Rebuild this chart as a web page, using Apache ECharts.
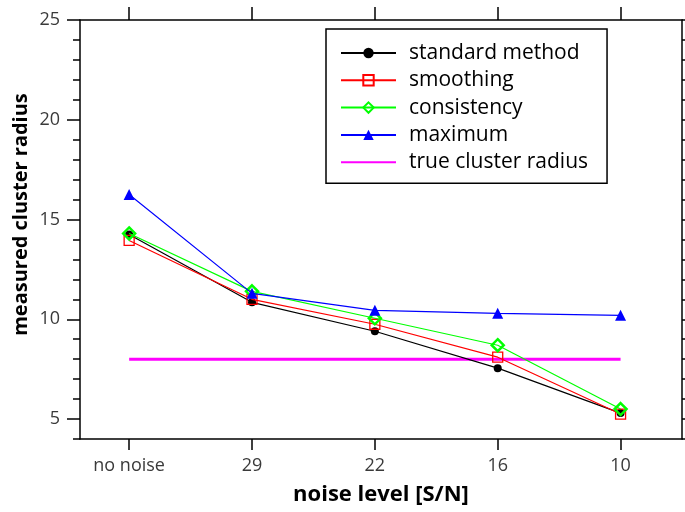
<!DOCTYPE html>
<html>
<head>
<meta charset="utf-8">
<script src="https://cdn.jsdelivr.net/npm/echarts@6/dist/echarts.min.js"></script>
<style>
  html, body { margin: 0; padding: 0; background: #fff; }
  #chart { width: 685px; height: 512px; }
</style>
</head>
<body>
<div id="chart"></div>
<script>
// Noise levels along the x axis (S/N), in plotting order
const categories = ['no noise', '29', '22', '16', '10'];

// Measured cluster radius for each method
const standardMethod = [14.25, 10.85, 9.4, 7.55, 5.3];
const smoothing      = [13.95, 11.0, 9.75, 8.1, 5.25];
const consistency    = [14.3, 11.4, 10.05, 8.7, 5.5];
const maximum        = [16.25, 11.3, 10.45, 10.3, 10.2];

// Reference value of the true cluster radius
const trueRadius = 8;

// Labelled y ticks
const yTicks = [5, 10, 15, 20, 25];
const xTicks = categories.map((c, i) => i);

const Y_MIN = 4, Y_MAX = 25;
const X_MIN = -0.4, X_MAX = 4.5;

const FONT = 'Open Sans';
const axisColor = '#000';
const labelColor = '#3a3a3a';

const toPoints = arr => arr.map((v, i) => [i, v]);

const chart = echarts.init(document.getElementById('chart'), null, { renderer: 'canvas' });

const baseX = {
  type: 'value', min: X_MIN, max: X_MAX,
  splitLine: { show: false },
  axisLine: { show: true, onZero: false, lineStyle: { color: axisColor, width: 1.5 } }
};

const baseY = {
  type: 'value', min: Y_MIN, max: Y_MAX,
  splitLine: { show: false },
  axisLine: { show: true, onZero: false, lineStyle: { color: axisColor, width: 1.5 } }
};

chart.setOption({
  animation: false,
  backgroundColor: '#fff',
  grid: { left: 80, top: 20, right: 3, bottom: 73, containLabel: false },
  xAxis: [
    Object.assign({}, baseX, {
      position: 'bottom',
      name: 'noise level [S/N]',
      nameLocation: 'middle',
      nameGap: 45,
      nameMoveOverlap: false,
      nameTextStyle: { fontFamily: FONT, fontWeight: 'bold', fontSize: 22, color: '#000' },
      axisTick: { show: true, length: 11, inside: false, customValues: xTicks, lineStyle: { color: axisColor, width: 1.5 } },
      axisLabel: { show: true, margin: 18, customValues: xTicks, fontFamily: FONT, fontSize: 18, color: labelColor,
        formatter: v => categories[Math.round(v)] }
    }),
    Object.assign({}, baseX, {
      position: 'top',
      axisTick: { show: true, length: 13, inside: false, customValues: xTicks, lineStyle: { color: axisColor, width: 1.5 } },
      axisLabel: { show: false }
    })
  ],
  yAxis: [
    Object.assign({}, baseY, {
      position: 'left',
      name: 'measured cluster radius',
      nameLocation: 'middle',
      nameGap: 49,
      nameRotate: 90,
      nameMoveOverlap: false,
      nameTextStyle: { fontFamily: FONT, fontWeight: 'bold', fontSize: 20, color: '#000', padding: [0, 0, 0, 30] },
      axisTick: { show: true, length: 13, inside: false, customValues: yTicks, lineStyle: { color: axisColor, width: 1.5 } },
      axisLabel: { show: true, margin: 20, customValues: yTicks, fontFamily: FONT, fontSize: 18, color: labelColor }
    }),
    Object.assign({}, baseY, {
      position: 'right',
      axisTick: { show: true, length: 13, inside: false, customValues: yTicks, lineStyle: { color: axisColor, width: 1.5 } },
      axisLabel: { show: false }
    }),
    // unit minor ticks on both sides
    Object.assign({}, baseY, {
      position: 'left', interval: 1,
      axisLine: { show: false, onZero: false },
      axisTick: { show: true, length: 7, inside: false, lineStyle: { color: axisColor, width: 1.5 } },
      axisLabel: { show: false }
    }),
    Object.assign({}, baseY, {
      position: 'right', interval: 1,
      axisLine: { show: false, onZero: false },
      axisTick: { show: true, length: 7, inside: false, lineStyle: { color: axisColor, width: 1.5 } },
      axisLabel: { show: false }
    })
  ],
  legend: {
    show: true,
    left: 326, top: 29,
    orient: 'vertical',
    align: 'left',
    backgroundColor: '#fff',
    borderColor: '#000',
    borderWidth: 1.5,
    borderRadius: 0,
    padding: [13, 19, 10, 14],
    itemWidth: 55,
    itemHeight: 13,
    itemGap: 5.3,
    textStyle: { fontFamily: FONT, fontSize: 21, color: '#000', lineHeight: 22, padding: [0, 0, 0, 8] },
    data: [
      'standard method', 'smoothing', 'consistency', 'maximum',
      { name: 'true cluster radius', itemStyle: { opacity: 0 } }
    ]
  },
  series: [
    {
      name: 'standard method', type: 'line', xAxisIndex: 0, yAxisIndex: 0,
      data: toPoints(standardMethod),
      symbol: 'circle', symbolSize: 8,
      lineStyle: { color: '#000', width: 1.2 },
      itemStyle: { color: '#000' },
      z: 3
    },
    {
      name: 'smoothing', type: 'line', xAxisIndex: 0, yAxisIndex: 0,
      data: toPoints(smoothing),
      symbol: 'rect', symbolSize: 10,
      lineStyle: { color: '#ff0000', width: 1.2 },
      itemStyle: { color: 'rgba(0,0,0,0)', borderColor: '#ff0000', borderWidth: 1.3 },
      z: 4
    },
    {
      name: 'consistency', type: 'line', xAxisIndex: 0, yAxisIndex: 0,
      data: toPoints(consistency),
      symbol: 'diamond', symbolSize: 12,
      lineStyle: { color: '#00ff00', width: 1.2 },
      itemStyle: { color: 'rgba(0,0,0,0)', borderColor: '#00ff00', borderWidth: 2.5 },
      z: 5
    },
    {
      name: 'maximum', type: 'line', xAxisIndex: 0, yAxisIndex: 0,
      data: toPoints(maximum),
      symbol: 'triangle', symbolSize: 11,
      lineStyle: { color: '#0000ff', width: 1.2 },
      itemStyle: { color: '#0000ff' },
      z: 6
    },
    {
      name: 'true cluster radius', type: 'line', xAxisIndex: 0, yAxisIndex: 0,
      data: [[0, trueRadius], [categories.length - 1, trueRadius]],
      symbol: 'none', showSymbol: false,
      lineStyle: { color: '#ff00ff', width: 3 },
      itemStyle: { color: '#ff00ff' },
      z: 2
    }
  ]
});
</script>
</body>
</html>
